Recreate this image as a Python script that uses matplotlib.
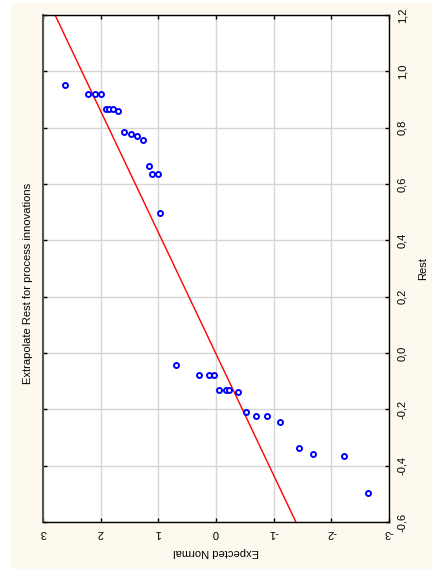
import numpy as np
import matplotlib
matplotlib.use("Agg")
from matplotlib import pyplot as plt
from matplotlib.patches import Rectangle

plt.rcParams['font.family'] = ['Liberation Sans', 'DejaVu Sans']

# normal probability plot values
expected_normal = [2.61, 2.22, 2.09, 1.99, 1.90, 1.85, 1.79, 1.70, 1.60, 1.47,
                   1.37, 1.27, 1.17, 1.11, 1.00, 0.97, 0.69, 0.29, 0.13, 0.03,
                   -0.06, -0.17, -0.23, -0.39, -0.52, -0.69, -0.88, -1.11,
                   -1.44, -1.69, -2.22, -2.64]
rest = [0.952, 0.919, 0.919, 0.919, 0.866, 0.866, 0.866, 0.859, 0.785, 0.778,
        0.772, 0.757, 0.665, 0.636, 0.636, 0.497, -0.044, -0.079, -0.079, -0.079,
        -0.132, -0.132, -0.132, -0.138, -0.210, -0.225, -0.225, -0.245,
        -0.339, -0.359, -0.365, -0.498]

# fitted normal line: expected = intercept + slope * rest
line_slope = 2.32
line_intercept = 0.007

x_ticks = [3, 2, 1, 0, -1, -2, -3]
x_labels = ['3', '2', '1', '0', '-1', '-2', '-3']
y_ticks = [-0.6, -0.4, -0.2, 0.0, 0.2, 0.4, 0.6, 0.8, 1.0, 1.2]
y_labels = ['-0,6', '-0,4', '-0,2', '0,0', '0,2', '0,4', '0,6', '0,8', '1,0', '1,2']

fig = plt.figure(figsize=(4.32, 5.69), dpi=100)
fig.patch.set_facecolor('white')
bg = Rectangle((11 / 432, 0), 1, 1 - 3 / 569, transform=fig.transFigure,
               facecolor='#fdf9ee', edgecolor='none', zorder=-10)
fig.add_artist(bg)

ax = fig.add_axes([43 / 432, 1 - 522 / 569, 346 / 432, 507 / 569])
ax.set_zorder(1)
ax.set_facecolor('white')

ax.grid(True, color='#d6d6d6', linewidth=1)
ax.set_axisbelow(True)

rest_line = np.array([-0.6, 1.2])
ax.plot(line_intercept + line_slope * rest_line, rest_line, color='#ff0000', lw=1, zorder=2)
ax.plot(expected_normal, rest, 'o', ms=3.6, mfc='white', mec='#0000ff', mew=1.4, zorder=3)

ax.set_xlim(3, -3)
ax.set_ylim(-0.6, 1.2)
ax.yaxis.tick_right()
ax.yaxis.set_label_position('right')
ax.set_xticks(x_ticks)
ax.set_xticklabels(x_labels, rotation=180, fontsize=8)
ax.set_yticks(y_ticks)
ax.set_yticklabels(y_labels, rotation=90, va='center', fontsize=8)
ax.tick_params(axis='both', direction='in', length=3, width=1, color='black',
               top=True, bottom=True, left=True, right=True)
ax.tick_params(axis='y', pad=6)
ax.tick_params(axis='x', pad=4)

for s in ax.spines.values():
    s.set_color('black')
    s.set_linewidth(1)
ax.spines['left'].set_color('#555555')
ax.spines['left'].set_linewidth(1.5)

ax.set_xlabel('Expected Normal', rotation=180, fontsize=8, labelpad=7)
ax.set_ylabel('Rest', rotation=90, fontsize=8, labelpad=8)

fig.text(28 / 432, 1 - 283 / 569, 'Extrapolate Rest for process innovations',
         rotation=90, ha='center', va='center', fontsize=8)

fig.savefig('out.png', dpi=100)
